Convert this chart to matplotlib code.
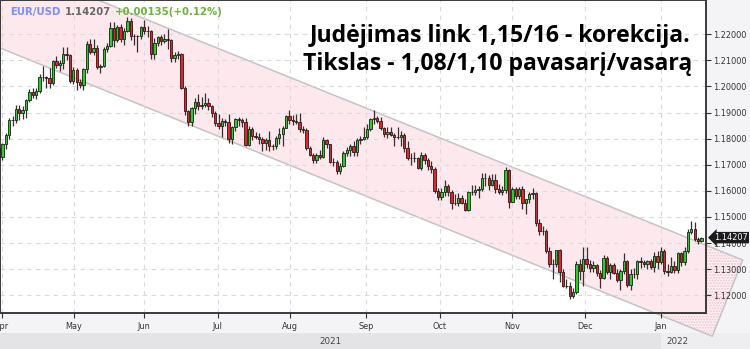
import matplotlib
matplotlib.use('Agg')
import matplotlib.pyplot as plt
from matplotlib.patches import Polygon, Rectangle
from matplotlib import transforms

# EUR/USD daily candles, 2021-03-31 .. 2022-01-18 (one entry per trading day)
opens = [1.1765, 1.1728, 1.1778, 1.1812, 1.1873, 1.1870, 1.1914, 1.1900, 1.1911, 1.1948, 1.1978, 1.1966, 1.1983, 1.2035, 1.2036, 1.2034, 1.2014, 1.2097, 1.2083, 1.2089, 1.2126, 1.2122,
         1.2019, 1.2061, 1.2015, 1.2004, 1.2065, 1.2164, 1.2130, 1.2147, 1.2075, 1.2080, 1.2145, 1.2156, 1.2224, 1.2176, 1.2227, 1.2180, 1.2214, 1.2249, 1.2192, 1.2193, 1.2193,
         1.2227, 1.2212, 1.2212, 1.2126, 1.2167, 1.2191, 1.2174, 1.2180, 1.2176, 1.2108, 1.2121, 1.2125, 1.1995, 1.1906, 1.1864, 1.1917, 1.1941, 1.1925, 1.1930, 1.1937, 1.1924, 1.1898,
         1.1858, 1.1847, 1.1866, 1.1862, 1.1800, 1.1845, 1.1874, 1.1870, 1.1863, 1.1775, 1.1838, 1.1811, 1.1806, 1.1800, 1.1783, 1.1793, 1.1771, 1.1771, 1.1801, 1.1817, 1.1842, 1.1887,
         1.1870, 1.1868, 1.1865, 1.1836, 1.1833, 1.1763, 1.1737, 1.1718, 1.1739, 1.1730, 1.1795, 1.1778, 1.1712, 1.1711, 1.1675, 1.1697, 1.1745, 1.1755, 1.1772, 1.1750, 1.1795, 1.1797,
         1.1807, 1.1836, 1.1875, 1.1880, 1.1868, 1.1840, 1.1818, 1.1827, 1.1812, 1.1806, 1.1805, 1.1815, 1.1764, 1.1725, 1.1727, 1.1724, 1.1689, 1.1739, 1.1720, 1.1695, 1.1683, 1.1600,
         1.1578, 1.1596, 1.1619, 1.1597, 1.1555, 1.1553, 1.1573, 1.1552, 1.1528, 1.1594, 1.1597, 1.1602, 1.1608, 1.1648, 1.1650, 1.1623, 1.1643, 1.1608, 1.1597, 1.1602, 1.1681,
         1.1558, 1.1607, 1.1580, 1.1608, 1.1554, 1.1568, 1.1587, 1.1592, 1.1478, 1.1445, 1.1446, 1.1368, 1.1319, 1.1320, 1.1372, 1.1289, 1.1236, 1.1235, 1.1199, 1.1211, 1.1318, 1.1292,
         1.1338, 1.1320, 1.1303, 1.1315, 1.1287, 1.1266, 1.1343, 1.1290, 1.1317, 1.1284, 1.1258, 1.1292, 1.1330, 1.1238, 1.1281, 1.1281, 1.1331, 1.1327, 1.1320, 1.1330, 1.1310, 1.1349, 1.1326,
         1.1370, 1.1294, 1.1288, 1.1312, 1.1295, 1.1360, 1.1326, 1.1368, 1.1443, 1.1454, 1.1414, 1.1407]
highs = [1.1772, 1.1782, 1.1820, 1.1878, 1.1888, 1.1928, 1.1927, 1.1925, 1.1950, 1.1991, 1.1993, 1.1994, 1.2048, 1.2080, 1.2040, 1.2070, 1.2100, 1.2117, 1.2100, 1.2150, 1.2150, 1.2125,
         1.2076, 1.2070, 1.2030, 1.2071, 1.2173, 1.2181, 1.2180, 1.2160, 1.2085, 1.2150, 1.2165, 1.2245, 1.2245, 1.2235, 1.2240, 1.2225, 1.2266, 1.2263, 1.2202, 1.2197, 1.2230,
         1.2254, 1.2232, 1.2215, 1.2185, 1.2195, 1.2196, 1.2200, 1.2218, 1.2182, 1.2133, 1.2136, 1.2128, 1.2000, 1.1910, 1.1923, 1.1955, 1.1970, 1.1960, 1.1975, 1.1955, 1.1930, 1.1904,
         1.1895, 1.1880, 1.1875, 1.1895, 1.1848, 1.1880, 1.1882, 1.1880, 1.1880, 1.1849, 1.1845, 1.1825, 1.1822, 1.1805, 1.1804, 1.1830, 1.1780, 1.1810, 1.1840, 1.1850, 1.1892, 1.1908,
         1.1890, 1.1896, 1.1900, 1.1850, 1.1840, 1.1770, 1.1745, 1.1745, 1.1755, 1.1805, 1.1800, 1.1780, 1.1727, 1.1718, 1.1705, 1.1752, 1.1769, 1.1780, 1.1790, 1.1802, 1.1810, 1.1845,
         1.1857, 1.1880, 1.1909, 1.1885, 1.1884, 1.1845, 1.1845, 1.1845, 1.1820, 1.1845, 1.1830, 1.1820, 1.1790, 1.1745, 1.1748, 1.1730, 1.1750, 1.1745, 1.1725, 1.1715, 1.1690, 1.1610,
         1.1610, 1.1641, 1.1626, 1.1604, 1.1586, 1.1590, 1.1585, 1.1570, 1.1600, 1.1624, 1.1624, 1.1620, 1.1669, 1.1668, 1.1660, 1.1665, 1.1665, 1.1625, 1.1620, 1.1692, 1.1683,
         1.1616, 1.1614, 1.1616, 1.1620, 1.1570, 1.1594, 1.1609, 1.1594, 1.1492, 1.1464, 1.1454, 1.1385, 1.1340, 1.1375, 1.1376, 1.1300, 1.1262, 1.1250, 1.1227, 1.1330, 1.1340, 1.1383,
         1.1383, 1.1335, 1.1333, 1.1320, 1.1295, 1.1355, 1.1350, 1.1325, 1.1325, 1.1300, 1.1300, 1.1360, 1.1335, 1.1300, 1.1303, 1.1336, 1.1345, 1.1335, 1.1335, 1.1337, 1.1365, 1.1369, 1.1385,
         1.1376, 1.1320, 1.1346, 1.1331, 1.1365, 1.1364, 1.1385, 1.1453, 1.1483, 1.1482, 1.1425, 1.1423]
lows = [1.1704, 1.1717, 1.1760, 1.1800, 1.1850, 1.1860, 1.1870, 1.1875, 1.1880, 1.1940, 1.1955, 1.1950, 1.1975, 1.2020, 1.1995, 1.1995, 1.2005, 1.2070, 1.2060, 1.2065, 1.2100, 1.2012,
        1.2010, 1.1986, 1.1995, 1.1985, 1.2050, 1.2125, 1.2120, 1.2065, 1.2052, 1.2075, 1.2130, 1.2150, 1.2152, 1.2170, 1.2170, 1.2160, 1.2210, 1.2178, 1.2160, 1.2133, 1.2180,
        1.2200, 1.2190, 1.2104, 1.2104, 1.2155, 1.2160, 1.2165, 1.2145, 1.2093, 1.2094, 1.2105, 1.1990, 1.1892, 1.1847, 1.1848, 1.1895, 1.1910, 1.1912, 1.1920, 1.1910, 1.1882, 1.1850,
        1.1835, 1.1808, 1.1850, 1.1782, 1.1781, 1.1830, 1.1850, 1.1845, 1.1772, 1.1772, 1.1795, 1.1800, 1.1780, 1.1753, 1.1757, 1.1753, 1.1755, 1.1760, 1.1780, 1.1770, 1.1840, 1.1857,
        1.1852, 1.1855, 1.1825, 1.1820, 1.1755, 1.1735, 1.1706, 1.1705, 1.1722, 1.1725, 1.1765, 1.1708, 1.1694, 1.1665, 1.1664, 1.1690, 1.1735, 1.1735, 1.1735, 1.1735, 1.1780, 1.1795,
        1.1800, 1.1830, 1.1855, 1.1860, 1.1832, 1.1805, 1.1802, 1.1810, 1.1770, 1.1800, 1.1770, 1.1750, 1.1720, 1.1700, 1.1710, 1.1685, 1.1680, 1.1702, 1.1680, 1.1670, 1.1593, 1.1563,
        1.1563, 1.1580, 1.1580, 1.1529, 1.1545, 1.1540, 1.1550, 1.1524, 1.1522, 1.1583, 1.1583, 1.1572, 1.1598, 1.1618, 1.1605, 1.1617, 1.1590, 1.1587, 1.1585, 1.1590, 1.1535,
        1.1556, 1.1570, 1.1570, 1.1530, 1.1513, 1.1555, 1.1570, 1.1465, 1.1432, 1.1432, 1.1363, 1.1310, 1.1263, 1.1308, 1.1250, 1.1232, 1.1226, 1.1186, 1.1190, 1.1205, 1.1258, 1.1235,
        1.1305, 1.1288, 1.1288, 1.1275, 1.1228, 1.1262, 1.1282, 1.1264, 1.1282, 1.1250, 1.1222, 1.1280, 1.1230, 1.1222, 1.1265, 1.1263, 1.1305, 1.1310, 1.1300, 1.1300, 1.1290, 1.1300, 1.1320,
        1.1280, 1.1273, 1.1285, 1.1285, 1.1286, 1.1313, 1.1315, 1.1360, 1.1436, 1.1408, 1.1398, 1.1404]
closes = [1.1728, 1.1778, 1.1812, 1.1873, 1.1870, 1.1914, 1.1900, 1.1911, 1.1948, 1.1978, 1.1966, 1.1983, 1.2035, 1.2036, 1.2034, 1.2014, 1.2097, 1.2083, 1.2089, 1.2126, 1.2122, 1.2019,
          1.2061, 1.2015, 1.2004, 1.2065, 1.2164, 1.2130, 1.2147, 1.2075, 1.2080, 1.2145, 1.2156, 1.2224, 1.2176, 1.2227, 1.2180, 1.2214, 1.2249, 1.2192, 1.2193, 1.2193, 1.2227,
          1.2212, 1.2212, 1.2126, 1.2167, 1.2191, 1.2174, 1.2180, 1.2176, 1.2108, 1.2121, 1.2125, 1.1995, 1.1906, 1.1864, 1.1917, 1.1941, 1.1925, 1.1930, 1.1937, 1.1924, 1.1898, 1.1858,
          1.1847, 1.1866, 1.1862, 1.1800, 1.1845, 1.1874, 1.1870, 1.1863, 1.1775, 1.1838, 1.1811, 1.1806, 1.1800, 1.1783, 1.1793, 1.1771, 1.1771, 1.1801, 1.1817, 1.1842, 1.1887, 1.1870,
          1.1868, 1.1865, 1.1836, 1.1833, 1.1763, 1.1737, 1.1718, 1.1739, 1.1730, 1.1795, 1.1778, 1.1712, 1.1711, 1.1675, 1.1697, 1.1745, 1.1755, 1.1772, 1.1750, 1.1795, 1.1797, 1.1807,
          1.1836, 1.1875, 1.1880, 1.1868, 1.1840, 1.1818, 1.1827, 1.1812, 1.1806, 1.1805, 1.1815, 1.1764, 1.1725, 1.1727, 1.1724, 1.1689, 1.1739, 1.1720, 1.1695, 1.1683, 1.1600, 1.1578,
          1.1596, 1.1619, 1.1597, 1.1555, 1.1553, 1.1573, 1.1552, 1.1528, 1.1594, 1.1597, 1.1602, 1.1608, 1.1648, 1.1650, 1.1623, 1.1643, 1.1608, 1.1597, 1.1602, 1.1681, 1.1558,
          1.1607, 1.1580, 1.1608, 1.1554, 1.1568, 1.1587, 1.1592, 1.1478, 1.1445, 1.1446, 1.1368, 1.1319, 1.1320, 1.1372, 1.1289, 1.1236, 1.1235, 1.1199, 1.1211, 1.1318, 1.1292, 1.1338,
          1.1320, 1.1303, 1.1315, 1.1287, 1.1266, 1.1343, 1.1290, 1.1317, 1.1284, 1.1258, 1.1292, 1.1330, 1.1238, 1.1281, 1.1281, 1.1331, 1.1327, 1.1320, 1.1330, 1.1310, 1.1349, 1.1326, 1.1370,
          1.1294, 1.1288, 1.1312, 1.1295, 1.1360, 1.1326, 1.1368, 1.1443, 1.1454, 1.1414, 1.1407, 1.14207]

month_labels = ['Apr', 'May', 'Jun', 'Jul', 'Aug', 'Sep', 'Oct', 'Nov', 'Dec', 'Jan']
month_pos = [1.0, 22.2, 42.9, 64.8, 86.2, 108.8, 130.5, 152.0, 173.4, 196.1]
price_ticks = [1.12, 1.13, 1.14, 1.15, 1.16, 1.17, 1.18, 1.19, 1.20, 1.21, 1.22]

# trend channel (upper edge, then lower edge, in candle index / price)
channel_x = [-60, 220.2, 211.2, -60]
channel_y = [1.2797, 1.1335, 1.1043, 1.2463]

symbol = 'EUR/USD'
last_price = 1.14207
change = '+0.00135(+0.12%)'
title_lines = ['Judėjimas link 1,15/16 - korekcija.', 'Tikslas - 1,08/1,10 pavasarį/vasarą']

W, H = 750, 349
fig = plt.figure(figsize=(7.5, 3.49), dpi=100, facecolor='#f4f4f6')
ax = fig.add_axes([0, 36 / H, 706 / W, 313 / H])
ax.set_facecolor('white')

# year band at the bottom
fig.add_artist(Rectangle((0, 0), 661 / W, 16 / H, transform=fig.transFigure,
                         facecolor='#e4e4e6', edgecolor='none', zorder=-1))
fig.add_artist(Rectangle((661 / W, 0), 89 / W, 16 / H, transform=fig.transFigure,
                         facecolor='#eeeef0', edgecolor='none', zorder=-1))
fig.text(330 / W, 8 / H, '2021', ha='center', va='center', fontsize=6.3, color='#444')
fig.text(677 / W, 8 / H, '2022', ha='center', va='center', fontsize=6.3, color='#444')

# channel
pts = list(zip(channel_x, channel_y))
ax.add_patch(Polygon(pts, closed=True, facecolor='#fff4f7', edgecolor='#f0c0cd',
                     hatch='......', linewidth=0, clip_on=False, zorder=0.4))
ax.add_patch(Polygon(pts, closed=True, facecolor='#fde8ee', edgecolor='none', zorder=0.5))
ax.add_patch(Polygon(pts, closed=True, facecolor='none', edgecolor='#c4c4c4',
                     linewidth=1.1, clip_on=False, zorder=0.6))

# candles
idx = list(range(len(closes)))
ax.vlines(idx, lows, highs, color='#3b2e2e', linewidth=0.9, zorder=2)
up = [c >= o for o, c in zip(opens, closes)]
bottoms = [min(o, c) for o, c in zip(opens, closes)]
heights = [max(abs(c - o), 0.00006) for o, c in zip(opens, closes)]
colors = ['#27cf27' if u else '#ec2028' for u in up]
ax.bar(idx, heights, bottom=bottoms, width=0.7, color=colors, edgecolor='#1e1e1e',
       linewidth=0.6, zorder=3)

ax.set_xlim(0.29, 209.35)
ax.set_ylim(1.1132, 1.2331)

ax.yaxis.tick_right()
ax.set_yticks(price_ticks)
ax.set_yticklabels(['%.5f' % v for v in price_ticks])
ax.set_xticks(month_pos)
ax.set_xticklabels(month_labels)
ax.tick_params(axis='both', labelsize=5.9, labelcolor='#333', color='#333',
               length=3.5, width=0.8)
ax.tick_params(axis='y', pad=1.5)
ax.tick_params(axis='x', pad=3)
ax.grid(True, color='#dadada', linestyle=(0, (4, 4)), linewidth=0.8)
for s in ax.spines.values():
    s.set_color('#3a3a3a')
    s.set_linewidth(1.4)

# last price tag
tr = transforms.blended_transform_factory(ax.transAxes, ax.transData)
ax.text(1.0115, last_price, '%.5f' % last_price, transform=tr, ha='left', va='center',
        fontsize=5.9, color='white', zorder=6, clip_on=False,
        bbox=dict(boxstyle='larrow,pad=0.15', facecolor='#1c1c1c', edgecolor='none'))

# header: symbol, price and change written one after another
ty = 1 - 12 / H
renderer = fig.canvas.get_renderer()
x0 = 10
for txt, col in [(symbol, '#7d8ff0'), ('%.5f' % last_price, '#666666'), (change, '#6cb23e')]:
    t = fig.text(x0 / W, ty, txt, ha='left', va='center', fontsize=7.3,
                 fontweight='bold', color=col)
    x0 = t.get_window_extent(renderer).x1 + 4

fig.text(690 / W, 1 - 36 / H, title_lines[0], ha='right', va='center', fontsize=16.6,
         fontweight='bold', family='Open Sans', color='black')
fig.text(692 / W, 1 - 64 / H, title_lines[1], ha='right', va='center', fontsize=16.6,
         fontweight='bold', family='Open Sans', color='black')

fig.savefig('out.png', dpi=100, facecolor=fig.get_facecolor())
